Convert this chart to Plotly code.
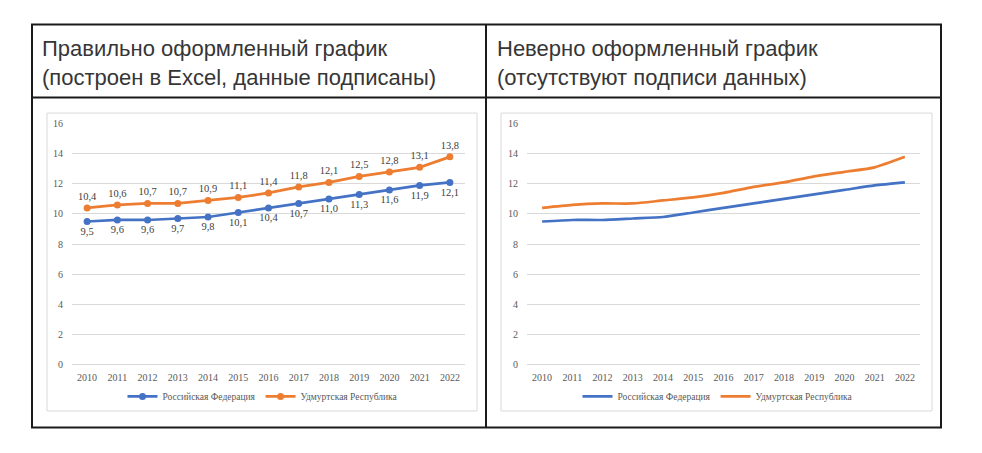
import plotly.graph_objects as go

years = ["2010", "2011", "2012", "2013", "2014", "2015", "2016", "2017", "2018", "2019", "2020", "2021", "2022"]
rf = [9.5, 9.6, 9.6, 9.7, 9.8, 10.1, 10.4, 10.7, 11.0, 11.3, 11.6, 11.9, 12.1]
ur = [10.4, 10.6, 10.7, 10.7, 10.9, 11.1, 11.4, 11.8, 12.1, 12.5, 12.8, 13.1, 13.8]
names = ["Российская Федерация", "Удмуртская Республика"]
headers = ["Правильно оформленный график<br>(построен в Excel, данные подписаны)",
           "Неверно оформленный график<br>(отсутствуют подписи данных)"]
yticks = [0, 2, 4, 6, 8, 10, 12, 14, 16]

W, H = 982, 453
BLUE = "#4472C4"
ORANGE = "#ED7D31"
SERIF = "Liberation Serif, Times New Roman, serif"
SANS = "Liberation Sans, Arial, sans-serif"

def px(x):
    return x / W

def py(y):
    return 1 - y / H

def lbl(v):
    return f"{v:.1f}".replace(".", ",")

fig = go.Figure()

# left chart: with markers and labels
fig.add_trace(go.Scatter(x=years, y=rf, name=names[0], mode="lines+markers+text",
                         line=dict(color=BLUE, width=2.7), marker=dict(size=7, color=BLUE),
                         text=[lbl(v) for v in rf], textposition="bottom center",
                         textfont=dict(family=SERIF, size=10.5, color="#404040"),
                         xaxis="x", yaxis="y", legend="legend"))
fig.add_trace(go.Scatter(x=years, y=ur, name=names[1], mode="lines+markers+text",
                         line=dict(color=ORANGE, width=2.7), marker=dict(size=7, color=ORANGE),
                         text=[lbl(v) for v in ur], textposition="top center",
                         textfont=dict(family=SERIF, size=10.5, color="#404040"),
                         xaxis="x", yaxis="y", legend="legend"))
# right chart: smooth lines, no labels
fig.add_trace(go.Scatter(x=years, y=rf, name=names[0], mode="lines",
                         line=dict(color=BLUE, width=2.7, shape="spline", smoothing=0.6),
                         xaxis="x2", yaxis="y2", legend="legend2"))
fig.add_trace(go.Scatter(x=years, y=ur, name=names[1], mode="lines",
                         line=dict(color=ORANGE, width=2.7, shape="spline", smoothing=0.6),
                         xaxis="x2", yaxis="y2", legend="legend2"))

ydom = [py(368), py(121)]
axfont = dict(family=SERIF, size=10, color="#595959")
common_x = dict(type="category", range=[-0.5, 12.5], showgrid=False, showline=True,
                linecolor="#d9d9d9", linewidth=1, tickfont=axfont, ticks="outside",
                ticklen=4, tickcolor="rgba(0,0,0,0)", fixedrange=True)
common_y = dict(range=[0, 16], tickvals=yticks, showgrid=True, gridcolor="#d9d9d9",
                gridwidth=1, zeroline=False, showline=False, tickfont=axfont,
                ticks="outside", ticklen=6, tickcolor="rgba(0,0,0,0)", fixedrange=True)

legfont = dict(family=SERIF, size=9.5, color="#595959")
fig.update_layout(
    width=W, height=H,
    margin=dict(l=0, r=0, t=0, b=0),
    paper_bgcolor="white", plot_bgcolor="white",
    xaxis=dict(domain=[px(72), px(465)], anchor="y", **common_x),
    yaxis=dict(domain=ydom, anchor="x", **common_y),
    xaxis2=dict(domain=[px(527), px(920)], anchor="y2", **common_x),
    yaxis2=dict(domain=ydom, anchor="x2", **common_y),
    legend=dict(orientation="h", x=px(263), y=py(401), xanchor="center", yanchor="middle",
                font=legfont, bgcolor="rgba(0,0,0,0)", itemwidth=30, tracegroupgap=0),
    legend2=dict(orientation="h", x=px(718), y=py(401), xanchor="center", yanchor="middle",
                 font=legfont, bgcolor="rgba(0,0,0,0)", itemwidth=30, tracegroupgap=0),
    showlegend=True,
)

shapes = []
# chart frames
for x0, x1 in [(47, 477), (501, 932)]:
    shapes.append(dict(type="rect", xref="paper", yref="paper", x0=px(x0), x1=px(x1),
                       y0=py(416), y1=py(110), line=dict(color="#d9d9d9", width=1)))
# table borders
tb = dict(color="#1a1a1a", width=2)
shapes.append(dict(type="rect", xref="paper", yref="paper", x0=px(32), x1=px(941),
                   y0=py(433), y1=py(19), line=tb))
shapes.append(dict(type="line", xref="paper", yref="paper", x0=px(486), x1=px(486),
                   y0=py(433), y1=py(19), line=tb))
shapes.append(dict(type="line", xref="paper", yref="paper", x0=px(32), x1=px(941),
                   y0=py(94), y1=py(94), line=tb))
fig.update_layout(shapes=shapes)

for xh, t in [(40, headers[0]), (495, headers[1])]:
    fig.add_annotation(xref="paper", yref="paper", x=px(xh), y=py(59), text=t,
                       showarrow=False, xanchor="left", yanchor="middle", align="left",
                       font=dict(family=SANS, size=22, color="#363636"))

fig.write_html("out.html")
